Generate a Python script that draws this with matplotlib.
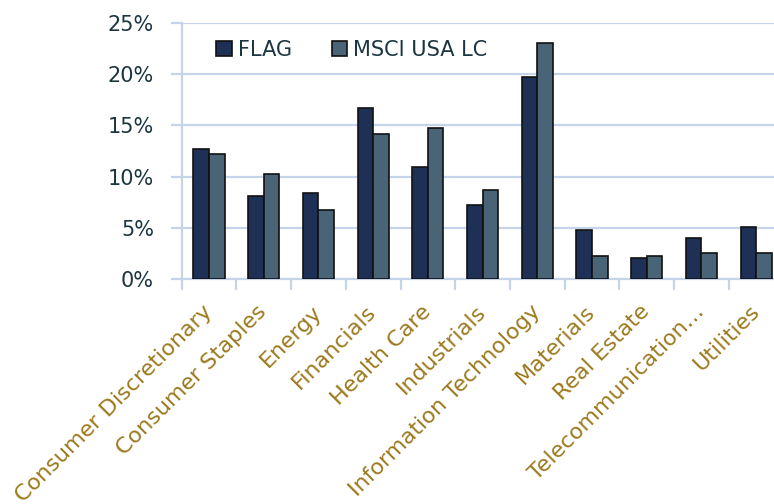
import matplotlib
matplotlib.use("Agg")
import matplotlib.pyplot as plt
import numpy as np
from matplotlib.ticker import FuncFormatter

categories = ["Consumer Discretionary", "Consumer Staples", "Energy", "Financials",
              "Health Care", "Industrials", "Information Technology", "Materials",
              "Real Estate", "Telecommunication…", "Utilities"]
flag = [12.7, 8.1, 8.4, 16.7, 10.9, 7.2, 19.7, 4.8, 2.1, 4.0, 5.1]
msci = [12.2, 10.3, 6.8, 14.2, 14.7, 8.7, 23.0, 2.3, 2.3, 2.6, 2.6]
series_names = ["FLAG", "MSCI USA LC"]
yticks = [0, 5, 10, 15, 20, 25]

plt.rcParams['font.family'] = ['DejaVu Sans']

W, H = 774, 504
fig = plt.figure(figsize=(W / 100, H / 100), dpi=100)
left, right, top, bottom = 181.7, 783.5, 22.7, 279.3
ax = fig.add_axes([left / W, 1 - bottom / H, (right - left) / W, (bottom - top) / H])

grid_col = "#C6D4EA"
c_flag = "#1E3056"
c_msci = "#4A6477"
txt_col = "#1C3641"
lab_col = "#9C7A1E"

x = np.arange(len(categories))
bw = 0.285
ax.bar(x - bw / 2, flag, bw, color=c_flag, edgecolor="#111111", linewidth=1.2,
       label=series_names[0], zorder=3)
ax.bar(x + bw / 2, msci, bw, color=c_msci, edgecolor="#111111", linewidth=1.2,
       label=series_names[1], zorder=3)

ax.set_xlim(-0.5, len(categories) - 0.5)
ax.set_ylim(0, 25)
ax.set_yticks(yticks)
ax.yaxis.set_major_formatter(FuncFormatter(lambda v, p: f"{v:.0f}%"))
ax.grid(axis="y", color=grid_col, linewidth=1.6, zorder=0)
ax.set_axisbelow(True)

for s in ["top", "right"]:
    ax.spines[s].set_visible(False)
for s in ["left", "bottom"]:
    ax.spines[s].set_color(grid_col)
    ax.spines[s].set_linewidth(1.6)

ax.set_xticks(x)
ax.set_xticklabels(categories, rotation=45, ha="right", va="center",
                   rotation_mode="anchor", color=lab_col, fontsize=16)
ax.tick_params(axis="x", which="major", length=0, pad=21)
ax.set_xticks(np.arange(len(categories) + 1) - 0.5, minor=True)
ax.tick_params(axis="x", which="minor", length=8, width=1.6, color=grid_col, direction="out")
ax.tick_params(axis="y", length=8, width=1.6, color=grid_col, labelcolor=txt_col,
               labelsize=15, pad=12)

leg = fig.legend(loc="center left", bbox_to_anchor=(216 / W, 1 - 50 / H), ncol=2,
                 frameon=False, fontsize=15, handlelength=0.75, handleheight=0.75,
                 handletextpad=0.3, columnspacing=1.9, borderaxespad=0, borderpad=0)
for t in leg.get_texts():
    t.set_color(txt_col)

fig.savefig("out.png", dpi=100)
